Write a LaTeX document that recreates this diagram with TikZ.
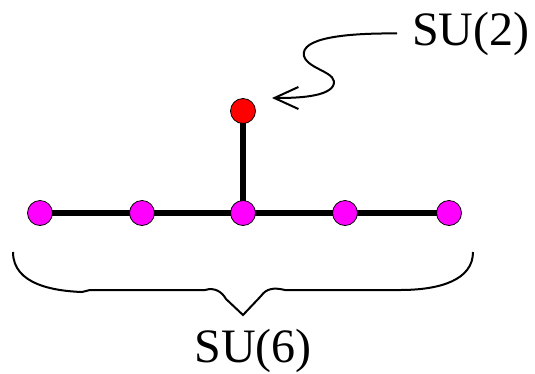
\documentclass[tikz,border=0pt]{standalone}
\usepackage{fontspec}
\setmainfont{Liberation Serif}
\usetikzlibrary{arrows.meta}
\begin{document}
\begin{tikzpicture}[x=1pt,y=-1pt,
  dot/.style={circle,draw=black,line width=0.8pt,minimum size=25pt,inner sep=0pt},
  mdot/.style={dot,fill={rgb,255:red,255;green,0;blue,255}},
  rdot/.style={dot,fill={rgb,255:red,255;green,0;blue,0}},
  bond/.style={line width=6.5pt},
  lbl/.style={font=\fontsize{48}{58}\selectfont,inner sep=0pt},
  thin/.style={line width=2pt}]
\useasboundingbox (0,0) rectangle (535,373);
\coordinate (n1) at (40,213);
\coordinate (n2) at (142,213);
\coordinate (n3) at (243,213);
\coordinate (n4) at (345,213);
\coordinate (n5) at (449,213);
\coordinate (r) at (243,111);
\draw[bond] (n1) -- (n5);
\draw[bond] (n3) -- (r);
\node[mdot] (a1) at (n1) {};
\node[mdot] (a2) at (n2) {};
\node[mdot] (a3) at (n3) {};
\node[mdot] (a4) at (n4) {};
\node[mdot] (a5) at (n5) {};
\node[rdot] (b) at (r) {};
\node[lbl,anchor=base west] (su2) at (412,45) {SU(2)};
\node[lbl,anchor=base] (su6) at (253,362) {SU(6)};
\coordinate (tip) at (272,98);
\draw[thin,-{Straight Barb[length=24pt,width=22pt]}] ([xshift=-15pt]su2.west) .. controls (345,33) and (300,38) .. (304,56)
  .. controls (308,70) and (340,72) .. (333,86)
  .. controls (326,98) and (290,98) .. (tip);
\draw[thin] (13,252) .. controls (13,285) and (55,291) .. (82,292)
  -- (90,290) -- (205,290) .. controls (215,287) and (222,292) .. (226,299)
  -- (243,315) -- (261,296) .. controls (266,289) and (273,287) .. (285,290)
  -- (400,290) .. controls (440,290) and (473,280) .. (473,252);
\end{tikzpicture}
\end{document}
